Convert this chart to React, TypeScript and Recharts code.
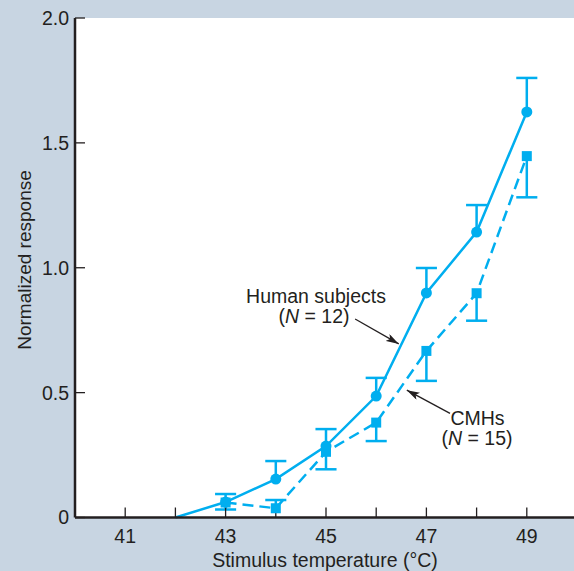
import React from 'react';
import { LineChart, Line, XAxis, YAxis, CartesianGrid, ReferenceLine } from 'recharts';

const temps = [42, 43, 44, 45, 46, 47, 48, 49];
const humanResp = [0, 0.062, 0.154, 0.286, 0.486, 0.899, 1.143, 1.624];
const humanErrUp = [null, 0.032, 0.072, 0.068, 0.073, 0.1, 0.108, 0.136];
const cmhResp = [null, 0.06, 0.037, 0.263, 0.38, 0.667, 0.898, 1.447];
// signed error: negative = bar drawn downward, positive = upward
const cmhErr = [null, -0.028, 0.033, -0.07, -0.074, -0.12, -0.11, -0.165];

const xTicks = [41, 42, 43, 44, 45, 46, 47, 48, 49];
const yTicks = [0, 0.5, 1, 1.5, 2];

const data = temps.map((t, i) => ({
  t,
  human: humanResp[i],
  cmh: cmhResp[i],
}));

const CYAN = '#00aeef';
const INK = '#231f20';
const BG = '#c8d5e2';
const FONT = '"Liberation Sans", Arial, Helvetica, sans-serif';
const CAP = 0.21;

const errorBars: { x: number; y0: number; y1: number }[] = [];
temps.forEach((t, i) => {
  const h = humanResp[i];
  const he = humanErrUp[i];
  if (h != null && he != null) errorBars.push({ x: t, y0: h, y1: h + he });
  const c = cmhResp[i];
  const ce = cmhErr[i];
  if (c != null && ce != null) errorBars.push({ x: t, y0: c, y1: c + ce });
});

const arrows = [
  { from: { x: 45.58, y: 0.795 }, to: { x: 46.45, y: 0.695 } },
  { from: { x: 47.47, y: 0.417 }, to: { x: 46.61, y: 0.51 } },
];

const CircleDot = (props: any) => {
  const { cx, cy, index } = props;
  if (cx == null || cy == null || index === 0) return <g key={`hc-${index}`} />;
  return <circle key={`hc-${index}`} cx={cx} cy={cy} r={5.5} fill={CYAN} />;
};

const SquareDot = (props: any) => {
  const { cx, cy, index, value } = props;
  if (cx == null || cy == null || value == null) return <g key={`cs-${index}`} />;
  return <rect key={`cs-${index}`} x={cx - 5} y={cy - 5} width={10} height={10} fill={CYAN} />;
};

const tickStyle = { fontSize: 19.5, fill: INK, fontFamily: FONT };

export default function App() {
  return (
    <div
      style={{
        position: 'fixed',
        left: 0,
        top: 0,
        width: 574,
        height: 571,
        overflow: 'hidden',
        background: BG,
      }}
    >
      <svg width={0} height={0} style={{ position: 'absolute' }}>
        <defs>
          <marker
            id="arrowHead"
            viewBox="0 0 13 8"
            refX={13}
            refY={4}
            markerWidth={13}
            markerHeight={8}
            markerUnits="userSpaceOnUse"
            orient="auto"
          >
            <path d="M0,0 L13,4 L0,8 L3,4 z" fill={INK} />
          </marker>
        </defs>
      </svg>
      <LineChart
        width={600}
        height={571}
        data={data}
        margin={{ top: 18, right: 22, bottom: 0, left: 0 }}
      >
        <CartesianGrid fill="#ffffff" horizontal={false} vertical={false} />
        <XAxis
          xAxisId="b"
          dataKey="t"
          type="number"
          domain={[40, 50]}
          ticks={xTicks}
          orientation="bottom"
          height={53.5}
          interval={0}
          tickSize={-10}
          tickMargin={22}
          tick={tickStyle}
          tickFormatter={(v: number) => (v % 2 === 1 ? String(v) : '')}
          axisLine={{ stroke: INK, strokeWidth: 2.5 }}
          tickLine={{ stroke: INK, strokeWidth: 1.3 }}
        />
        <XAxis
          xAxisId="top"
          dataKey="t"
          type="number"
          domain={[40, 50]}
          ticks={xTicks}
          orientation="top"
          height={0}
          interval={0}
          tickSize={-10}
          tick={false}
          axisLine={{ stroke: INK, strokeWidth: 2.5 }}
          tickLine={{ stroke: INK, strokeWidth: 1.3 }}
        />
        <YAxis
          yAxisId="l"
          type="number"
          domain={[0, 2]}
          ticks={yTicks}
          orientation="left"
          width={75}
          interval={0}
          tickSize={-10}
          tickMargin={16}
          tick={tickStyle}
          tickFormatter={(v: number) => (v === 0 ? '0' : v.toFixed(1))}
          axisLine={{ stroke: INK, strokeWidth: 2.5 }}
          tickLine={{ stroke: INK, strokeWidth: 1.3 }}
        />
        <YAxis
          yAxisId="r"
          type="number"
          domain={[0, 2]}
          ticks={yTicks}
          orientation="right"
          width={1}
          interval={0}
          tickSize={-10}
          tick={false}
          axisLine={{ stroke: INK, strokeWidth: 2.5 }}
          tickLine={{ stroke: INK, strokeWidth: 1.3 }}
        />
        {errorBars.map((e, i) => (
          <ReferenceLine
            key={`ev-${i}`}
            xAxisId="b"
            yAxisId="l"
            segment={[{ x: e.x, y: e.y0 }, { x: e.x, y: e.y1 }]}
            stroke={CYAN}
            strokeWidth={2.5}
          />
        ))}
        {errorBars.map((e, i) => (
          <ReferenceLine
            key={`ec-${i}`}
            xAxisId="b"
            yAxisId="l"
            segment={[{ x: e.x - CAP, y: e.y1 }, { x: e.x + CAP, y: e.y1 }]}
            stroke={CYAN}
            strokeWidth={2.5}
          />
        ))}
        {arrows.map((a, i) => (
          <ReferenceLine
            key={`ar-${i}`}
            xAxisId="b"
            yAxisId="l"
            segment={[a.from, a.to]}
            stroke={INK}
            strokeWidth={1.3}
            markerEnd="url(#arrowHead)"
          />
        ))}
        <Line
          xAxisId="b"
          yAxisId="l"
          dataKey="human"
          stroke={CYAN}
          strokeWidth={2.5}
          dot={CircleDot}
          activeDot={false}
          isAnimationActive={false}
        />
        <Line
          xAxisId="b"
          yAxisId="l"
          dataKey="cmh"
          stroke={CYAN}
          strokeWidth={2.5}
          strokeDasharray="11 6"
          dot={SquareDot}
          activeDot={false}
          isAnimationActive={false}
        />
      </LineChart>
      <svg
        width={574}
        height={571}
        style={{ position: 'absolute', left: 0, top: 0, pointerEvents: 'none' }}
        fontFamily={FONT}
        fill={INK}
      >
        <text x={316} y={302.5} fontSize={19.5} textAnchor="middle">Human subjects</text>
        <text x={314} y={322.5} fontSize={19.5} textAnchor="middle">
          (<tspan fontStyle="italic">N</tspan> = 12)
        </text>
        <text x={477.5} y={424.5} fontSize={19.5} textAnchor="middle">CMHs</text>
        <text x={477} y={444.5} fontSize={19.5} textAnchor="middle">
          (<tspan fontStyle="italic">N</tspan> = 15)
        </text>
        <text x={325} y={567} fontSize={19.5} textAnchor="middle">Stimulus temperature (°C)</text>
        <text
          x={0}
          y={0}
          fontSize={19}
          textAnchor="middle"
          transform="translate(31 260) rotate(-90)"
        >
          Normalized response
        </text>
      </svg>
    </div>
  );
}
